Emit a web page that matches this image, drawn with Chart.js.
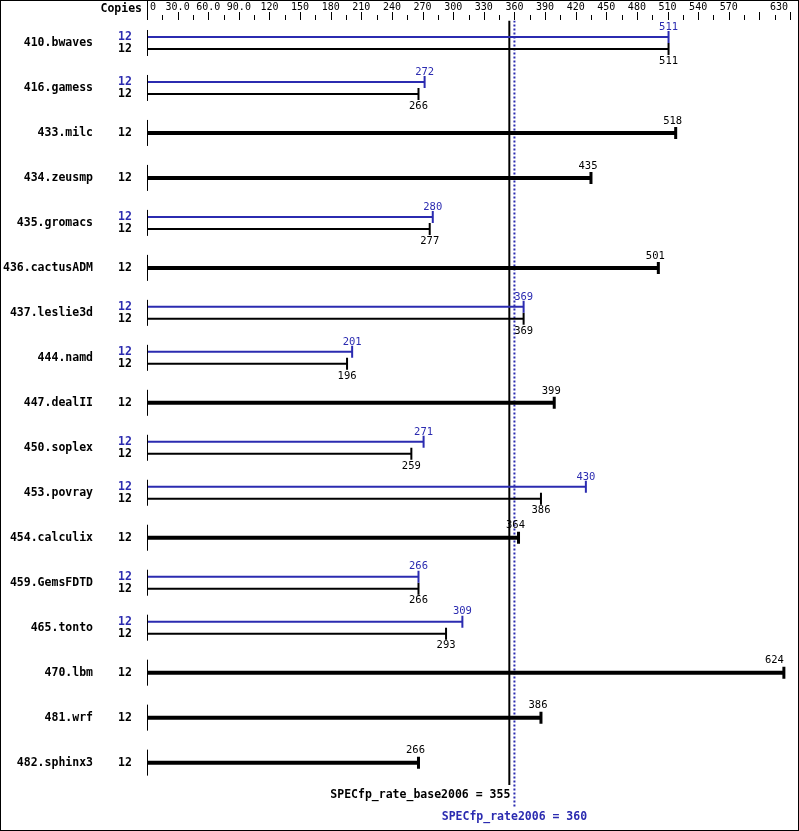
<!DOCTYPE html>
<html>
<head>
<meta charset="utf-8">
<script src="https://cdn.jsdelivr.net/npm/chart.js@4"></script>
<style>
body { margin: 0; background: #fff; }
#wrap { width: 799px; height: 831px; position: relative; }
</style>
</head>
<body>
<div id="wrap"><canvas id="c"></canvas></div>
<script>
var benchmarks = ['410.bwaves', '416.gamess', '433.milc', '434.zeusmp', '435.gromacs', '436.cactusADM',
    '437.leslie3d', '444.namd', '447.dealII', '450.soplex', '453.povray', '454.calculix',
    '459.GemsFDTD', '465.tonto', '470.lbm', '481.wrf', '482.sphinx3'];
var copies = [12, 12, 12, 12, 12, 12, 12, 12, 12, 12, 12, 12, 12, 12, 12, 12, 12];
var baseRatios = [511, 266, 518, 435, 277, 501, 369, 196, 399, 259, 386, 364, 266, 293, 624, 386, 266];
// null = peak same as base (single thick bar)
var peakRatios = [511, 272, null, null, 280, null, 369, 201, null, 271, 430, null, 266, 309, null, null, null];
var tickValues = [0, 30, 60, 90, 120, 150, 180, 210, 240, 270, 300, 330, 360, 390, 420, 450, 480, 510, 540, 570, 630];
var baseMean = 355;
var peakMean = 360;

var BLUE = '#2b2bb0';
var OFF = 0.133;
var FONT = '"DejaVu Sans Mono", monospace';

var datasets = [];
benchmarks.forEach(function (name, i) {
    var pair = peakRatios[i] !== null;
    if (pair) {
        datasets.push({ data: [{ x: 0, y: i - OFF }, { x: peakRatios[i], y: i - OFF }], borderColor: BLUE, borderWidth: 2,
            pointRadius: [0, 6], pointStyle: 'line', rotation: 90, pointBorderColor: BLUE, pointBorderWidth: 2 });
        datasets.push({ data: [{ x: 0, y: i + OFF }, { x: baseRatios[i], y: i + OFF }], borderColor: '#000', borderWidth: 2,
            pointRadius: [0, 6], pointStyle: 'line', rotation: 90, pointBorderColor: '#000', pointBorderWidth: 2 });
    } else {
        datasets.push({ data: [{ x: 0, y: i }, { x: baseRatios[i], y: i }], borderColor: '#000', borderWidth: 4,
            pointRadius: [0, 6], pointStyle: 'line', rotation: 90, pointBorderColor: '#000', pointBorderWidth: 3 });
    }
});
datasets.push({ data: [{ x: baseMean, y: -0.5 }, { x: baseMean, y: 16.5 }], borderColor: '#000', borderWidth: 2, pointRadius: 0 });
datasets.push({ data: [{ x: peakMean, y: -0.5 }, { x: peakMean, y: 17.0 }], borderColor: BLUE, borderWidth: 2, borderDash: [2, 2], pointRadius: 0 });

var decor = {
    id: 'decor',
    afterDraw: function (chart) {
        var ctx = chart.ctx, xs = chart.scales.x, ys = chart.scales.y;
        ctx.save();
        // frame
        ctx.strokeStyle = '#000'; ctx.lineWidth = 1;
        ctx.strokeRect(0.5, 0.5, 798, 830);
        // top axis
        ctx.beginPath();
        ctx.moveTo(xs.getPixelForValue(0) + 0.5, 0);
        ctx.lineTo(xs.getPixelForValue(0) + 0.5, 20);
        for (var v = 0; v <= 630; v += 15) {
            var px = Math.round(xs.getPixelForValue(v)) + 0.5;
            ctx.moveTo(px, v % 30 === 0 ? 12 : 15);
            ctx.lineTo(px, 20);
        }
        ctx.stroke();
        ctx.fillStyle = '#000';
        ctx.font = '10px ' + FONT;
        ctx.textBaseline = 'middle';
        tickValues.forEach(function (t) {
            var lbl = t < 100 ? t.toFixed(1) : String(t);
            if (t === 0) lbl = '0';
            ctx.textAlign = t === 0 ? 'left' : (t === 630 ? 'right' : 'center');
            var x = xs.getPixelForValue(t) + (t === 0 ? 3 : 0);
            if (t === 630) x -= 2;
            ctx.fillText(lbl, x, 7);
        });
        ctx.font = 'bold 11.5px ' + FONT;
        ctx.textAlign = 'right';
        ctx.fillText('Copies', 142, 9);
        // rows
        benchmarks.forEach(function (name, i) {
            var pair = peakRatios[i] !== null;
            var yc = ys.getPixelForValue(i);
            ctx.font = 'bold 11.5px ' + FONT;
            ctx.fillStyle = '#000';
            ctx.textAlign = 'right';
            ctx.fillText(name, 93, yc);
            ctx.strokeStyle = '#000'; ctx.lineWidth = 1;
            ctx.beginPath();
            var x0 = Math.round(xs.getPixelForValue(0)) + 0.5;
            ctx.moveTo(x0, yc - 13); ctx.lineTo(x0, yc + 13); ctx.stroke();
            ctx.textAlign = 'center';
            if (pair) {
                var yp = ys.getPixelForValue(i - OFF), yb = ys.getPixelForValue(i + OFF);
                ctx.font = 'bold 11.5px ' + FONT;
                ctx.fillStyle = BLUE; ctx.fillText(String(copies[i]), 125, yp);
                ctx.fillStyle = '#000'; ctx.fillText(String(copies[i]), 125, yb);
                ctx.font = '10.5px ' + FONT;
                ctx.fillStyle = BLUE; ctx.fillText(String(peakRatios[i]), xs.getPixelForValue(peakRatios[i]), yp - 10);
                ctx.fillStyle = '#000'; ctx.fillText(String(baseRatios[i]), xs.getPixelForValue(baseRatios[i]), yb + 12);
            } else {
                ctx.font = 'bold 11.5px ' + FONT;
                ctx.fillText(String(copies[i]), 125, yc);
                ctx.font = '10.5px ' + FONT;
                var xb = xs.getPixelForValue(baseRatios[i]);
                ctx.textAlign = baseRatios[i] > 600 ? 'right' : 'center';
                ctx.fillText(String(baseRatios[i]), baseRatios[i] > 600 ? xb : xb - 3, yc - 12);
            }
        });
        ctx.font = 'bold 11.5px ' + FONT;
        ctx.fillStyle = '#000'; ctx.textAlign = 'right';
        ctx.fillText('SPECfp_rate_base2006 = ' + baseMean, xs.getPixelForValue(baseMean) + 1, 795);
        ctx.fillStyle = BLUE; ctx.textAlign = 'center';
        ctx.fillText('SPECfp_rate2006 = ' + peakMean, xs.getPixelForValue(peakMean), 817);
        ctx.restore();
    }
};

new Chart(document.getElementById('c'), {
    type: 'line',
    data: { datasets: datasets },
    options: {
        responsive: true,
        maintainAspectRatio: false,
        animation: false,
        layout: { padding: { left: 147, right: 0, top: 20.5, bottom: 0 } },
        plugins: { legend: { display: false }, tooltip: { enabled: false } },
        scales: {
            x: { type: 'linear', min: 0, max: 630, display: false },
            y: { type: 'linear', min: -0.5, max: 17.32, reverse: true, display: false }
        }
    },
    plugins: [decor]
});
</script>
</body>
</html>
